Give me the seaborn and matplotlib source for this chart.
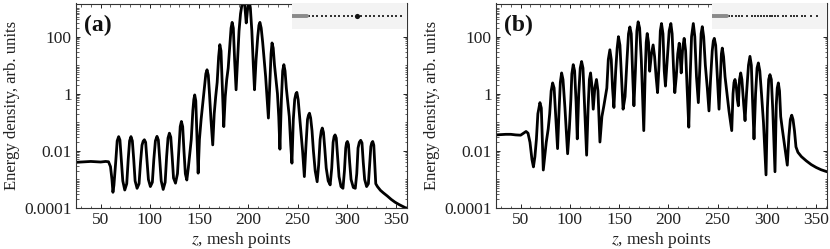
import numpy as np
import pandas as pd
import matplotlib
matplotlib.use("Agg")
import matplotlib.pyplot as plt
import matplotlib.ticker as mticker
import seaborn as sns

# ---------------- data (z in mesh points, log10 of energy density) ----------------
za = [25, 30, 35, 40, 45, 50, 55, 58, 60, 61.5, 62.5, 63.5,
      65.5, 66.8, 68.3, 69.6, 71, 72.5, 74.5, 76.5, 78,
      79.4, 80.8, 82.2, 83.6, 85, 87, 89, 90.5,
      92, 93.2, 94.4, 95.7, 97, 98.5, 100.5, 102.5, 104,
      105.6, 107.2, 108.6, 110, 111.5, 113.5, 115.5, 117,
      118.4, 119.8, 121.2, 122.6, 124, 126, 128, 129.5,
      130.8, 132, 133.3, 134.6, 136, 137.5, 139, 140.5, 142, 143.6,
      144.6, 145.5, 146.6, 147.8, 149, 150.3, 152, 153.8, 155.5, 156.8,
      158, 159.3, 160.5, 162, 163.8, 165.3, 166.8, 168.3, 169.8,
      171, 172.2, 173.5, 175, 176.5, 178, 179.5, 181, 182.4,
      183.5, 184.7, 186, 187.5, 189, 190.5, 192, 193.8,
      195.5, 196.8, 197.8, 199, 200.5, 202, 203.5, 205, 206.2, 207.8, 209.5, 210.7,
      211.7, 213, 214.5, 216, 217.5, 219, 220.3, 221.7, 223,
      224, 225.2, 226.5, 228, 229.5, 230.8, 232, 233.5, 234.8,
      236, 237.2, 238.5, 240, 241.5, 243, 244.2, 245.6, 247,
      248.2, 249.2, 250.5, 252, 253.5, 255, 256.8, 258.3, 260,
      261, 262, 263.2, 264.6, 266, 267.8, 269.8, 271.3, 272.8,
      274, 275, 276.2, 277.5, 279, 281, 283, 284.6, 286,
      287, 288, 289.2, 290.5, 292, 294, 296, 297.5, 298.8,
      299.6, 300.5, 301.6, 302.8, 304.2, 306.5, 308.5, 310, 311.3,
      312.6, 314, 315.3, 316.6, 318, 320, 321.8, 323, 324.3,
      325.2, 326.2, 327.3, 328.3, 329.3,
      331, 334, 337, 341, 345, 349, 353, 357, 361]
la = [-2.40, -2.39, -2.38, -2.37, -2.38, -2.39, -2.37, -2.38, -2.55, -3.0, -3.45, -3.2,
      -2.3, -1.65, -1.50, -1.62, -2.3, -3.05, -3.37, -3.15, -2.3,
      -1.65, -1.50, -1.65, -2.3, -3.05, -3.31, -3.15, -2.4,
      -1.8, -1.66, -1.61, -1.7, -2.3, -3.0, -3.25, -3.1, -2.3,
      -1.65, -1.49, -1.62, -2.3, -3.05, -3.35, -3.1, -2.2,
      -1.55, -1.38, -1.52, -2.2, -2.95, -3.13, -2.8, -1.9,
      -1.15, -0.97, -1.15, -2.0, -2.8, -3.02, -2.6, -2.1, -1.6, -0.6,
      -0.2, -0.04, -0.25, -1.5, -2.78, -1.6, -0.9, -0.3, 0.3, 0.7,
      0.84, 0.65, 0.0, -0.9, -1.79, -0.7, -0.1, 0.4, 1.3,
      1.72, 1.5, 0.3, -1.15, -0.1, 0.5, 0.9, 1.6, 2.3,
      2.50, 2.3, 1.2, 0.14, 1.2, 2.2, 2.8, 3.2,
      3.35, 2.9, 2.48, 2.9, 3.35, 3.0, 2.2, 1.0, 0.14, 1.2, 2.0, 2.4,
      2.50, 2.3, 1.8, 1.2, 0.6, -0.2, -0.85, 0.3, 1.4,
      1.78, 1.6, 1.0, 0.5, 0.0, -0.8, -1.94, -0.2, 0.8,
      1.02, 0.8, 0.2, -0.3, -0.8, -1.8, -2.43, -0.9, -0.2,
      0.0, 0.05, -0.2, -0.8, -1.4, -2.0, -2.90, -1.9, -0.9,
      -0.75, -0.68, -0.85, -1.3, -2.0, -2.7, -3.08, -2.5, -1.6,
      -1.3, -1.2, -1.35, -1.9, -2.6, -3.05, -3.19, -2.6, -1.7,
      -1.5, -1.44, -1.55, -2.2, -2.9, -3.25, -3.31, -2.7, -1.9,
      -1.72, -1.67, -1.78, -2.4, -3.0, -3.28, -3.31, -2.8, -1.9,
      -1.7, -1.63, -1.72, -2.4, -3.0, -3.25, -3.15, -2.5, -1.85,
      -1.72, -1.67, -1.8, -2.5, -3.15,
      -3.25, -3.38, -3.47, -3.58, -3.7, -3.8, -3.88, -3.95, -4.02]

zb = [25, 30, 35, 40, 45, 50, 53, 55.5, 57.5, 59.5, 61.5, 63,
      64.5, 66, 67.5, 69.6, 71, 72, 73, 74.5, 76, 78, 79.5, 81, 82.5, 84, 85.5, 87.5,
      89, 90.3, 91.6, 93, 95, 97.7, 99.5, 101, 102, 103.4, 104.8, 106.3, 107.5,
      109, 110.5, 111.9, 113.3, 115, 117, 118.5, 119.8, 121, 122.3, 123.7,
      125.3, 127, 128.5, 130.5, 132.5, 134.5, 136, 137.5, 139, 140.6, 142, 143.3, 144.7,
      146.5, 148, 149.3, 150.8, 152.5, 154, 156, 158, 159.5, 160.9, 162.3, 163.8, 165,
      166.5, 168, 169.3, 170.8, 172.5, 175, 176.5, 177.5, 178.5, 179.8, 181,
      182.8, 184.5, 186, 187.5, 189, 190.5, 191.8, 193, 194.5, 195.8, 197,
      198.8, 200.8, 202.5, 203.8, 205.2, 206.5, 208, 209.5, 211, 212.2, 213,
      214.5, 216, 217.5, 219, 220.7, 222, 223.5, 225.3, 226.8, 228.5, 230.4,
      232, 233.2, 234.4, 235.8, 237.5, 239.5, 241.2, 242.8, 244.5, 245.6, 246.6, 248,
      249.8, 251.4, 252.8, 253.8, 254.7, 256, 257.5, 259.5, 261.5, 264.3,
      265.6, 266.6, 267.6, 268.8, 270, 271, 272.2, 273.4, 274.6, 276.5, 277.8,
      279.3, 281.3, 282.8, 284.2, 285.5, 286.9, 288.5, 290, 291.3, 292.8, 294.5, 296.5, 299.1,
      300.5, 301.8, 303.1, 304.5, 306, 308.2, 309.5, 310.5, 311.6, 312.8, 314, 315.5, 317.5, 320.7,
      322.3, 323.8, 325.2, 326.5, 328, 329.5, 331.5, 335, 340, 345, 350, 355, 361]
lb = [-1.44, -1.43, -1.42, -1.42, -1.44, -1.45, -1.38, -1.32, -1.38, -1.7, -2.3, -2.56,
      -2.2, -1.6, -0.7, -0.31, -0.5, -1.6, -2.67, -2.2, -1.7, -1.23, -0.7, 0.1, 0.38, 0.2, -0.7, -1.92,
      -0.6, 0.4, 0.73, 0.5, -0.5, -2.10, -1.2, -0.2, 0.7, 1.02, 0.8, -0.3, -1.58,
      0.0, 0.9, 1.13, 0.9, -0.5, -2.15, -0.5, 0.5, 0.73, 0.3, -0.54,
      0.2, 0.50, 0.1, -1.69, -0.8, -0.42, -0.1, 0.2, 1.2, 1.54, 1.2, 0.2, -0.48,
      0.8, 1.6, 2.0, 1.7, 0.5, -0.54, -0.1, 1.2, 2.1, 2.34, 2.1, 0.6, -0.42,
      0.8, 2.2, 2.52, 2.3, 1.2, -1.29, 0.8, 1.8, 2.11, 1.8, 0.79,
      1.4, 1.71, 1.3, 0.6, 0.04, 1.0, 2.2, 2.46, 2.1, 0.8, 0.27,
      1.2, 2.2, 2.46, 2.1, 0.9, 0.04, 0.6, 1.4, 1.77, 1.2, 0.73,
      1.6, 1.94, 1.5, 0.2, -1.17, 0.5, 2.0, 2.46, 2.0, 0.6, -0.31,
      1.0, 2.1, 2.35, 2.0, 1.0, 0.2, -0.60, 0.5, 1.5, 1.85, 1.94, 1.7,
      0.5, -0.54, 0.6, 1.4, 1.6, 1.3, 0.6, 0.0, -0.6, -1.29,
      0.0, 0.4, 0.50, 0.3, -0.2, -0.42, 0.5, 0.73, 0.5, -0.4, -0.94,
      0.0, 1.0, 1.31, 1.0, -0.3, -1.58, 0.0, 0.9, 1.08, 0.8, 0.0, -1.0, -2.84,
      -0.5, 0.5, 0.67, 0.5, -0.6, -2.73, -0.4, 0.2, 0.38, 0.1, -0.8, -1.2, -1.7, -2.50,
      -1.5, -0.9, -0.75, -0.9, -1.3, -1.86, -2.05, -2.2, -2.35, -2.48, -2.58, -2.66, -2.73]

# structure schematics (position in % of the inset strip)
bar_a = [0, 13]
layers_a = [14.5, 18.3, 22.1, 25.9, 29.7, 33.5, 37.3, 41.1, 44.9, 48.7, 52.5,
            60.3, 64.1, 67.9, 71.7, 75.5, 79.3, 83.1, 86.9, 90.7, 94.5]
defect_a = [56.4]
bar_b = [0, 13]
layers_b = [14.5, 17, 21, 23.5, 26, 30.5, 35, 37.5, 40, 42.5, 45, 47.5, 50,
            52.5, 55, 57.5, 62, 64.5, 69, 71.5, 74, 78.5, 81, 86, 91.5]

yticks = [1e-4, 1e-2, 1, 1e2]
yticklabels = ["0.0001", "0.01", "1", "100"]
xticks = [50, 100, 150, 200, 250, 300, 350]

# ---------------- style ----------------
sns.set_theme(style="ticks")
plt.rcParams["font.family"] = ["Liberation Serif", "DejaVu Serif"]
plt.rcParams["mathtext.fontset"] = "stix"

fig = plt.figure(figsize=(8.30, 2.49), dpi=100)
W, H = 830.0, 249.0
boxes = [(76, 3.5, 407, 208), (496, 3.5, 827, 208)]
panels = [("(a)", za, la, bar_a, layers_a, defect_a),
          ("(b)", zb, lb, bar_b, layers_b, [])]

for (x0, y0, x1, y1), (tag, z, lg, bar, layers, defect) in zip(boxes, panels):
    ax = fig.add_axes([x0 / W, 1 - y1 / H, (x1 - x0) / W, (y1 - y0) / H])
    df = pd.DataFrame({"z": z, "E": 10 ** np.array(lg)})
    sns.lineplot(data=df, x="z", y="E", ax=ax, color="black", lw=2.0,
                 estimator=None, sort=False)
    ax.set_yscale("log")
    ax.set_xlim(25, 361)
    ax.set_ylim(1e-4, 1.45e3)
    ax.set_yticks(yticks)
    ax.set_yticklabels(yticklabels)
    ax.yaxis.set_minor_locator(mticker.LogLocator(base=10, subs=np.arange(1, 10), numticks=30))
    ax.yaxis.set_minor_formatter(mticker.NullFormatter())
    ax.set_xticks(xticks)
    ax.xaxis.set_minor_locator(mticker.MultipleLocator(10))
    ax.tick_params(which="both", direction="in", top=True, right=True,
                   labelsize=12.5, pad=3, colors="#222222")
    ax.tick_params(which="major", length=3, width=0.7)
    ax.tick_params(which="minor", length=1.8, width=0.5)
    for sp in ax.spines.values():
        sp.set_linewidth(0.8)
        sp.set_color("#333333")
    ax.set_xlabel(r"$\mathit{z}$, mesh points", fontsize=12.5, labelpad=1, color="#222222")
    ax.set_ylabel("Energy density, arb. units", fontsize=12, labelpad=3, color="#222222")
    ax.text(0.024, 0.895, tag, transform=ax.transAxes, fontsize=17,
            fontweight="bold", va="center", ha="left", color="#111111")

    # structure schematic
    ins = ax.inset_axes([(292 - 76) / 331.0, 1 - 25.0 / 204.5, 1 - (292 - 76) / 331.0, 25.0 / 204.5])
    ins.set_facecolor("#f3f3f3")
    for sp in ins.spines.values():
        sp.set_visible(False)
    ins.set_xlim(0, 100)
    ins.set_ylim(0, 1)
    ins.set_xticks([])
    ins.set_yticks([])
    sns.lineplot(x=bar, y=[0.5, 0.5], ax=ins, color="#8a8a8a", lw=2.8,
                 estimator=None)
    sns.scatterplot(x=layers, y=[0.5] * len(layers), ax=ins, color="#333333",
                    s=3, marker="s", linewidth=0)
    if defect:
        sns.scatterplot(x=defect, y=[0.5] * len(defect), ax=ins, color="#111111",
                        s=14, marker="o", linewidth=0)

fig.savefig("out.png", dpi=100)
